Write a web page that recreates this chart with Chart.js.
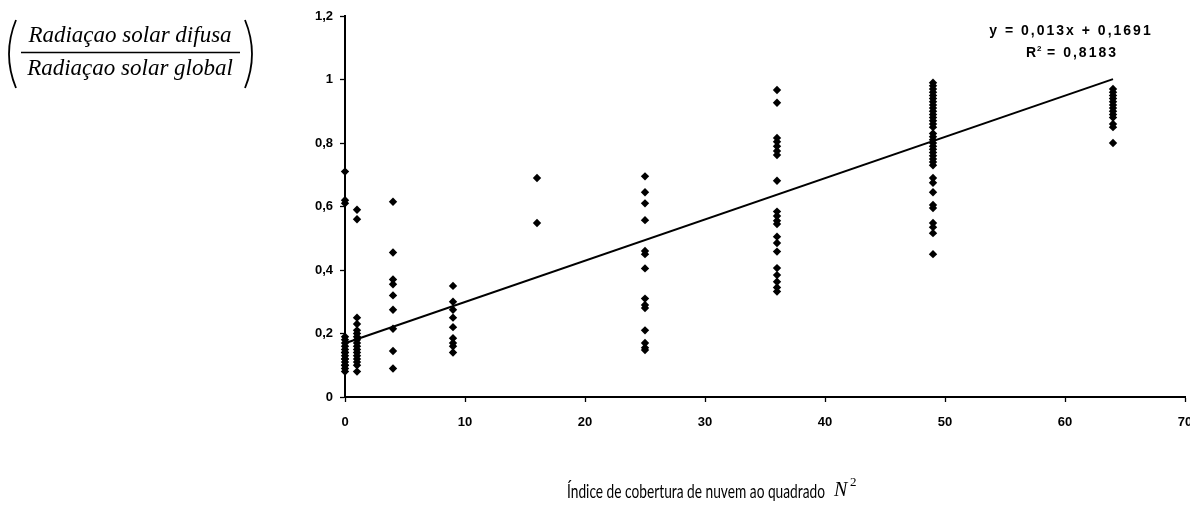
<!DOCTYPE html>
<html>
<head>
<meta charset="utf-8">
<title>Radiação difusa / global vs. cobertura de nuvem</title>
<script src="https://cdn.jsdelivr.net/npm/chart.js@4.4.1/dist/chart.umd.min.js"></script>
<style>
  html, body { margin: 0; padding: 0; background: #fff; overflow: hidden; }
  canvas { display: block; }
</style>
</head>
<body>
<canvas id="chart" width="1190" height="524" style="width:1190px;height:524px"></canvas>
<script>
// Índice de cobertura de nuvem ao quadrado (N²) observed in the series
const cloudIndexSquared = [0, 1, 4, 9, 16, 25, 36, 49, 64];

// Razão radiação difusa / radiação global for each N² value
const ratioN0 = [0.08, 0.09, 0.10, 0.10, 0.11, 0.12, 0.12, 0.13, 0.14, 0.14, 0.15, 0.16, 0.17, 0.18, 0.19, 0.61, 0.62, 0.71];
const ratioN1 = [0.59, 0.56, 0.25, 0.23, 0.21, 0.20, 0.19, 0.18, 0.17, 0.16, 0.15, 0.14, 0.13, 0.12, 0.11, 0.10, 0.08];
const ratioN4 = [0.615, 0.455, 0.37, 0.355, 0.32, 0.275, 0.215, 0.145, 0.09];
const ratioN9 = [0.35, 0.30, 0.275, 0.25, 0.22, 0.185, 0.17, 0.16, 0.14];
const ratioN16 = [0.69, 0.548];
const ratioN25 = [0.695, 0.645, 0.61, 0.557, 0.46, 0.45, 0.405, 0.31, 0.29, 0.28, 0.21, 0.17, 0.155, 0.148];
const ratioN36 = [0.967, 0.927, 0.816, 0.804, 0.79, 0.775, 0.762, 0.681, 0.584, 0.57, 0.555, 0.545, 0.505, 0.485, 0.458, 0.406, 0.384, 0.363, 0.345, 0.332];
const ratioN49 = [0.99, 0.98, 0.97, 0.96, 0.95, 0.94, 0.93, 0.92, 0.91, 0.90, 0.89, 0.88, 0.87, 0.86, 0.85,
                  0.83, 0.82, 0.81, 0.80, 0.79, 0.78, 0.77, 0.76, 0.75, 0.74, 0.73,
                  0.69, 0.675, 0.645, 0.605, 0.595, 0.548, 0.535, 0.516, 0.45];
const ratioN64 = [0.97, 0.96, 0.95, 0.94, 0.93, 0.92, 0.91, 0.90, 0.89, 0.88, 0.86, 0.85, 0.80];
const ratioGroups = [ratioN0, ratioN1, ratioN4, ratioN9, ratioN16, ratioN25, ratioN36, ratioN49, ratioN64];

// Linear trend line (least squares) and its coefficient of determination
const trendSlope = 0.013;
const trendIntercept = 0.1691;
const trendRSquared = 0.8183;

// Axis tick labels
const xTickLabels = ['0', '10', '20', '30', '40', '50', '60', '70'];
const yTickLabels = ['0', '0,2', '0,4', '0,6', '0,8', '1', '1,2'];

const yTitleTop = 'Radiaçao solar difusa';
const yTitleBottom = 'Radiaçao solar global';
const xTitleText = 'Índice de cobertura de nuvem ao quadrado';

// ---- build datasets from the arrays ----
const observations = [];
cloudIndexSquared.forEach((n2, i) => {
  ratioGroups[i].forEach(r => observations.push({ x: n2, y: r }));
});
const xMinData = Math.min(...cloudIndexSquared);
const xMaxData = Math.max(...cloudIndexSquared);
const trendPoints = [
  { x: xMinData, y: trendSlope * xMinData + trendIntercept },
  { x: xMaxData, y: trendSlope * xMaxData + trendIntercept }
];
const fmt = v => String(v).replace('.', ',');

const tickFont = { family: '"Liberation Sans", Arial, sans-serif', size: 13, weight: 'bold' };

// Titles and the regression equation are painted after the chart
const annotations = {
  id: 'annotations',
  afterDraw(chart) {
    const ctx = chart.ctx;
    ctx.save();
    ctx.fillStyle = '#000';
    ctx.strokeStyle = '#000';

    // y title: fraction in parentheses
    ctx.font = 'italic 23px "Liberation Serif", "Times New Roman", serif';
    ctx.textAlign = 'center';
    ctx.textBaseline = 'alphabetic';
    const cx = 130;
    ctx.fillText(yTitleTop, cx, 42);
    ctx.fillText(yTitleBottom, cx, 75);
    ctx.lineWidth = 1.6;
    ctx.beginPath();
    ctx.moveTo(21, 52.5);
    ctx.lineTo(240, 52.5);
    ctx.stroke();
    // parentheses
    ctx.lineWidth = 1.8;
    ctx.beginPath();
    ctx.moveTo(16, 20);
    ctx.quadraticCurveTo(2, 54, 16, 88);
    ctx.stroke();
    ctx.beginPath();
    ctx.moveTo(245, 20);
    ctx.quadraticCurveTo(259, 54, 245, 88);
    ctx.stroke();

    // x title (narrowed) followed by N²
    ctx.font = '19px Lato, "Open Sans", sans-serif';
    ctx.textAlign = 'left';
    const wTitle = ctx.measureText(xTitleText).width;
    const squeeze = Math.min(1, 258 / wTitle);
    ctx.save();
    ctx.translate(567, 498);
    ctx.scale(squeeze, 1);
    ctx.fillText(xTitleText, 0, 0);
    ctx.restore();
    ctx.font = 'italic 20px "Liberation Serif", serif';
    ctx.fillText('N', 834, 496);
    ctx.font = '13px "Liberation Serif", serif';
    ctx.fillText('2', 850, 486);

    // regression equation
    ctx.font = 'bold 14px "Liberation Sans", Arial, sans-serif';
    ctx.letterSpacing = '2px';
    ctx.textAlign = 'center';
    ctx.fillText('y = ' + fmt(trendSlope) + 'x + ' + fmt(trendIntercept), 1071, 35);
    const rLine = '= ' + fmt(trendRSquared);
    const wR = ctx.measureText('R').width;
    const wRest = ctx.measureText(rLine).width;
    const startX = 1072 - (wR + 9 + wRest) / 2;
    ctx.textAlign = 'left';
    ctx.fillText('R', startX, 57);
    ctx.font = 'bold 8px "Liberation Sans", Arial, sans-serif';
    ctx.letterSpacing = '0px';
    ctx.fillText('2', startX + wR - 1, 51);
    ctx.font = 'bold 14px "Liberation Sans", Arial, sans-serif';
    ctx.letterSpacing = '2px';
    ctx.fillText(rLine, startX + wR + 9, 57);
    ctx.restore();
  }
};

new Chart(document.getElementById('chart'), {
  type: 'scatter',
  data: {
    datasets: [
      {
        data: trendPoints,
        showLine: true,
        borderColor: '#000',
        borderWidth: 2,
        pointRadius: 0,
        clip: false
      },
      {
        data: observations,
        pointStyle: 'rectRot',
        pointRadius: 4.2,
        backgroundColor: '#000',
        borderColor: '#000',
        borderWidth: 0,
        clip: false
      }
    ]
  },
  options: {
    responsive: false,
    animation: false,
    devicePixelRatio: 1,
    layout: { padding: { left: 0, top: 16, right: 5, bottom: 87 } },
    plugins: { legend: { display: false }, tooltip: { enabled: false } },
    scales: {
      x: {
        type: 'linear',
        min: 0,
        max: 70,
        ticks: {
          stepSize: 10,
          color: '#000',
          font: tickFont,
          padding: 13,
          maxRotation: 0,
          callback: (v, i) => xTickLabels[i]
        },
        grid: { drawOnChartArea: false, color: '#000', tickLength: 5, tickWidth: 1.3 },
        border: { color: '#000', width: 2 },
        afterFit(scale) {
          scale.height = 40;
          // the last label may run past the canvas edge
          scale.paddingLeft = 0;
          scale.paddingRight = 0;
        }
      },
      y: {
        min: 0,
        max: 1.2,
        ticks: {
          stepSize: 0.2,
          color: '#000',
          font: tickFont,
          padding: 7,
          callback: (v, i) => yTickLabels[i]
        },
        grid: { drawOnChartArea: false, color: '#000', tickLength: 5, tickWidth: 1.3 },
        border: { color: '#000', width: 2 },
        afterFit(scale) {
          scale.width = 345;
          scale.paddingTop = 0;
          scale.paddingBottom = 0;
        }
      }
    }
  },
  plugins: [annotations]
});
</script>
</body>
</html>
